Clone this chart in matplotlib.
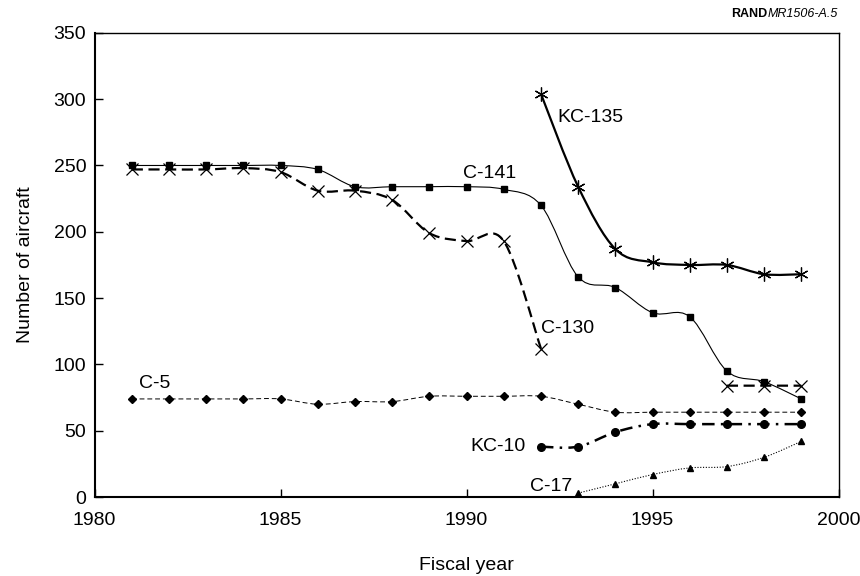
import numpy as np
import matplotlib.pyplot as plt
from matplotlib.path import Path
from matplotlib.patches import PathPatch

plt.rcParams['font.family'] = ['Liberation Sans', 'DejaVu Sans']

# data
c141_years = list(range(1981, 2000))
c141 = [250, 250, 250, 250, 250, 247, 234, 234, 234, 234, 232, 220, 166, 158, 139, 136, 95, 87, 74]

c130_years = list(range(1981, 1993))
c130 = [247, 247, 247, 248, 245, 231, 231, 224, 199, 193, 193, 112]
c130_late_years = [1997, 1998, 1999]
c130_late = [84, 84, 84]

kc135_years = list(range(1992, 2000))
kc135 = [304, 234, 187, 177, 175, 175, 168, 168]

c5_years = list(range(1981, 2000))
c5 = [74, 74, 74, 74, 74, 70, 72, 72, 76, 76, 76, 76, 70, 64, 64, 64, 64, 64, 64]

kc10_years = list(range(1992, 2000))
kc10 = [38, 38, 49, 55, 55, 55, 55, 55]

c17_years = list(range(1993, 2000))
c17 = [3, 10, 17, 22, 23, 30, 42]


def smooth_path(x, y):
    # bezier curve through the points, like a spreadsheet "smoothed line"
    x = np.asarray(x, float)
    y = np.asarray(y, float)
    n = len(x)
    verts = [(x[0], y[0])]
    codes = [Path.MOVETO]
    for i in range(n - 1):
        a = max(i - 1, 0)
        b = min(i + 2, n - 1)
        c1 = (x[i] + (x[i + 1] - x[a]) / 6, y[i] + (y[i + 1] - y[a]) / 6)
        c2 = (x[i + 1] - (x[b] - x[i]) / 6, y[i + 1] - (y[b] - y[i]) / 6)
        verts += [c1, c2, (x[i + 1], y[i + 1])]
        codes += [Path.CURVE4] * 3
    return Path(verts, codes)


def draw(ax, x, y, lw, ls, marker, ms, mew=1.0, mfc='black'):
    ax.add_patch(PathPatch(smooth_path(x, y), fill=False, edgecolor='black',
                           lw=lw, linestyle=ls, capstyle='butt', zorder=2))
    ax.plot(x, y, linestyle='none', marker=marker, ms=ms, mew=mew,
            color='black', mfc=mfc, zorder=3)


fig = plt.figure(figsize=(8.6, 5.76), dpi=100)
ax = fig.add_axes([0.110, 0.137, 0.865, 0.806])

draw(ax, c141_years, c141, 0.8, '-', 's', 4.3)
draw(ax, c130_years, c130, 1.6, (0, (5, 2.5)), 'x', 9, mew=0.9)
draw(ax, c130_late_years, c130_late, 1.6, (0, (5, 2.5)), 'x', 9, mew=0.9)
draw(ax, kc135_years, kc135, 1.6, '-', (6, 2, 0), 10, mew=0.9)
draw(ax, c5_years, c5, 0.7, (0, (5, 3)), 'D', 4)
draw(ax, kc10_years, kc10, 1.8, (0, (5, 2.5, 1, 2.5)), 'o', 5.5)
draw(ax, c17_years, c17, 0.8, (0, (1, 1.5)), '^', 4.5)

lab = dict(fontsize=14, color='black')
ax.text(1992.45, 286, 'KC-135', va='center', ha='left', **lab)
ax.text(1989.9, 244, 'C-141', va='center', ha='left', **lab)
ax.text(1992.0, 127, 'C-130', va='center', ha='left', **lab)
ax.text(1981.2, 86, 'C-5', va='center', ha='left', **lab)
ax.text(1991.6, 38.5, 'KC-10', va='center', ha='right', **lab)
ax.text(1992.85, 8, 'C-17', va='center', ha='right', **lab)

ax.set_xlim(1980, 2000)
ax.set_ylim(0, 350)
ax.set_xticks(range(1980, 2001, 5))
ax.set_yticks(range(0, 351, 50))
ax.tick_params(direction='in', length=5.5, width=1, labelsize=14)
ax.tick_params(axis='x', pad=11)
ax.tick_params(axis='y', pad=6)
for s in ax.spines.values():
    s.set_linewidth(1.0)
ax.spines['left'].set_linewidth(1.5)
ax.spines['bottom'].set_linewidth(1.5)

ax.set_xlabel('Fiscal year', fontsize=14, labelpad=20)
ax.set_ylabel('Number of aircraft', fontsize=14, labelpad=14)

t = fig.text(838 / 860, 1 - 14 / 576, 'MR1506-A.5', ha='right', va='center',
             fontsize=9, style='italic')
ax.annotate('RAND', xy=(0, 0.5), xycoords=t, ha='right', va='center',
            fontsize=9, fontweight='bold', annotation_clip=False)

plt.savefig('out.png', dpi=100)
